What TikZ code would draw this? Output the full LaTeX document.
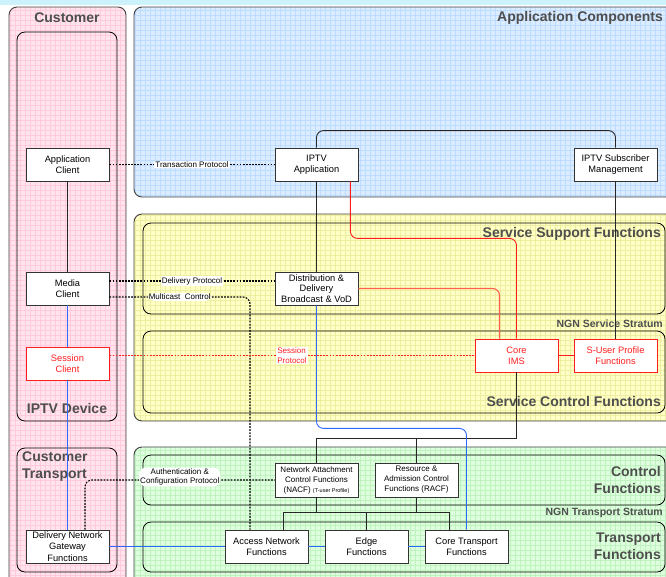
\documentclass[tikz,border=0pt]{standalone}
\usepackage{fontspec}
\setmainfont{Liberation Sans}
\usetikzlibrary{calc}

\definecolor{custpink}{RGB}{255,228,238}
\definecolor{custgrid}{RGB}{255,202,220}
\definecolor{appblue}{RGB}{220,236,255}
\definecolor{appgrid}{RGB}{190,220,255}
\definecolor{svcyellow}{RGB}{255,255,198}
\definecolor{svcgrid}{RGB}{238,238,160}
\definecolor{trgreen}{RGB}{222,255,222}
\definecolor{trgrid}{RGB}{192,242,192}
\definecolor{topcyan}{RGB}{204,242,252}
\definecolor{titlegray}{RGB}{78,78,78}
\definecolor{lineblue}{RGB}{45,105,255}
\definecolor{linered}{RGB}{255,30,30}
\definecolor{linesalmon}{RGB}{255,95,75}

% panel with a fine grid: fill, grid colour, x1, y1, x2, y2
\newcommand{\gridpanel}[6]{%
  \begin{scope}
    \clip[rounded corners=8pt] (#3,#4) rectangle (#5,#6);
    \fill[#1] (#3,#4) rectangle (#5,#6);
    \draw[#2, line width=0.4pt, step=5pt] (#3,#6) grid (#5,#4);
  \end{scope}
  \draw[panel] (#3,#4) rectangle (#5,#6);}

\tikzset{
  panel/.style={rounded corners=8pt, draw=black!75, line width=0.9pt},
  layer/.style={rounded corners=8pt, draw=black, line width=0.8pt},
  fn/.style={draw=black!80, fill=white, line width=0.8pt, minimum width=83pt,
    minimum height=33pt, inner sep=1pt, align=center,
    font=\fontsize{9.3}{11}\selectfont},
  fnred/.style={fn, draw=linered, text=linered},
  fnsmall/.style={fn, minimum height=34pt, font=\fontsize{8}{10}\selectfont},
  title/.style={text=titlegray, inner sep=0pt, font=\bfseries\fontsize{14}{17}\selectfont},
  stratum/.style={text=titlegray, inner sep=0pt, font=\bfseries\fontsize{10.5}{12}\selectfont},
  link/.style={line width=0.9pt, draw=black!85},
  proto/.style={line width=1.1pt, dash pattern=on 1.8pt off 1.3pt},
  protolabel/.style={fill=white, inner sep=1pt, align=center,
    font=\fontsize{8}{9.5}\selectfont}
}

\begin{document}
\begin{tikzpicture}[x=1pt, y=-1pt]
  \useasboundingbox (0,0) rectangle (666,576);
  \clip (0,0) rectangle (666,576);
  \fill[topcyan] (0,0) rectangle (666,5);

  % domains
  \gridpanel{custpink}{custgrid}{9}{7}{126}{600}
  \gridpanel{appblue}{appgrid}{134}{7}{700}{197}
  \gridpanel{svcyellow}{svcgrid}{134}{214}{700}{421}
  \gridpanel{trgreen}{trgrid}{134}{447}{700}{600}

  \draw[layer] (17,32) rectangle (117,421);
  \draw[layer] (17,448) rectangle (117,572);
  \draw[layer] (143,223) rectangle (665,314);
  \draw[layer] (143,331) rectangle (665,413);
  \draw[layer] (143,455) rectangle (665,505);
  \draw[layer] (143,522) rectangle (665,572);

  \node[title] at (67,18) {Customer};
  \node[title] at (67,408) {IPTV Device};
  \node[title, anchor=north west, align=left] at (22,452) {Customer\\Transport};
  \node[title, anchor=east] at (663,18) {Application Components};
  \node[title, anchor=east] at (661,234) {Service Support Functions};
  \node[title, anchor=east] at (661,401) {Service Control Functions};
  \node[title, anchor=east, align=right] at (661,479.5) {Control\\Functions};
  \node[title, anchor=east, align=right] at (661,546.5) {Transport\\Functions};
  \node[stratum, anchor=east] at (663,324) {NGN Service Stratum};
  \node[stratum, anchor=east] at (663,513) {NGN Transport Stratum};

  % functional entities
  \node[fn] (appclient) at (67.5,164.5) {Application\\Client};
  \node[fn] (iptvapp) at (316.5,164.5) {IPTV\\Application};
  \node[fn] (subscrmgmt) at (615.5,164.5) {IPTV Subscriber\\Management};
  \node[fn] (mediaclient) at (67.5,288.5) {Media\\Client};
  \node[fn, font=\fontsize{9.3}{10.7}\selectfont] (distdeliv) at (316.5,288.5) {Distribution \&\\Delivery\\Broadcast \& VoD};
  \node[fnred] (sessclient) at (67.5,363.5) {Session\\Client};
  \node[fnred] (coreims) at (516.5,355.5) {Core\\IMS};
  \node[fnred] (suserprof) at (615.5,355.5) {S-User Profile\\Functions};
  \node[fnsmall] (nacf) at (316.5,480) {Network Attachment\\Control Functions\\(NACF) {\fontsize{5.5}{6}\selectfont(T-user Profile)}};
  \node[fnsmall] (racf) at (416.5,480) {Resource \&\\Admission Control\\Functions (RACF)};
  \node[fn, font=\fontsize{9.3}{11.5}\selectfont] (dngw) at (67.5,546.5) {Delivery Network\\Gateway\\Functions};
  \node[fn] (accessnet) at (266.5,546.5) {Access Network\\Functions};
  \node[fn] (edgefn) at (366.5,546.5) {Edge\\Functions};
  \node[fn] (coretrans) at (466.5,546.5) {Core Transport\\Functions};

  % plain links
  \draw[link, rounded corners=7pt] (iptvapp.north) -- ++(0,-17) -| (subscrmgmt.north);
  \draw[link] (appclient) -- (mediaclient);
  \draw[link] (iptvapp) -- (distdeliv);
  \draw[link] (subscrmgmt) -- (suserprof);
  \draw[link, line width=1.3pt] (coreims.south) -- ++(0,66) -| (nacf.north);
  \draw[link] (racf.north) -- ++(0,-25);
  \draw[link] (nacf.south) -- ++(0,16);
  \draw[link] (racf.south) -- ++(0,16);
  \draw[link] ([xshift=16.5pt]accessnet.north) -- ++(0,-17) -| ([xshift=-17pt]coretrans.north);
  \draw[link] (edgefn.north) -- ++(0,-17);

  % red links
  \draw[linered, line width=0.9pt, rounded corners=7pt] ([xshift=-8pt]iptvapp.south east) -- ++(0,57) -| (coreims.north);
  \draw[linesalmon, line width=1.1pt, rounded corners=7pt] (distdeliv.east) -| ([xshift=-17pt]coreims.north);
  \draw[linered, line width=0.9pt] (coreims) -- (suserprof);

  % blue links
  \draw[lineblue, line width=1.1pt] (mediaclient) -- (sessclient);
  \draw[lineblue, line width=1.1pt] (sessclient) -- (dngw);
  \draw[lineblue, line width=0.9pt, rounded corners=7pt] (distdeliv.south) -- ++(0,123) -| (coretrans.north);
  \draw[lineblue, line width=1.1pt] (dngw) -- (accessnet);
  \draw[lineblue, line width=1.1pt] (accessnet) -- (edgefn);
  \draw[lineblue, line width=1.1pt] (edgefn) -- (coretrans);

  % protocols
  \draw[proto] (appclient) -- node[protolabel] {Transaction Protocol} (iptvapp);
  \draw[proto] ([yshift=7.5pt]mediaclient.east) -- node[protolabel] {Delivery Protocol} ([yshift=7.5pt]distdeliv.west);
  \draw[proto, rounded corners=7pt] ([yshift=-8.5pt]mediaclient.east) -| node[protolabel, pos=0.25] {Multicast\ \ Control} ([xshift=-16.5pt]accessnet.north);
  \draw[proto, linered] ([yshift=8pt]sessclient.east) -- node[protolabel, text=linered, align=left] {Session\\Protocol} (coreims.west);
  \draw[proto, rounded corners=7pt] ([xshift=17.5pt]dngw.north) |- node[protolabel, pos=0.75, yshift=3pt] {Authentication \&\\Configuration Protocol} (nacf.west);
\end{tikzpicture}
\end{document}
